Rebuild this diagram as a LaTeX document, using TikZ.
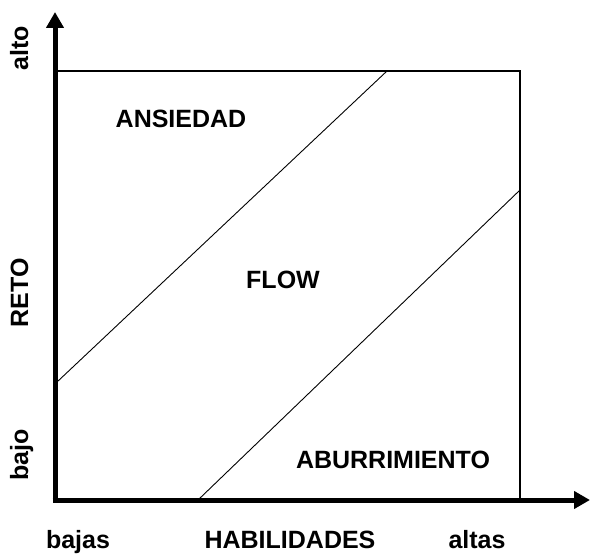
\documentclass[tikz,border=0pt]{standalone}
\usepackage{fontspec}
\setmainfont{Liberation Sans}
\usetikzlibrary{arrows.meta}
\begin{document}
\begin{tikzpicture}[x=1pt,y=-1pt,
  axis/.style={line width=5pt,-{Triangle[length=16pt,width=17pt]}},
  frame/.style={line width=1.6pt},
  diag/.style={line width=0.9pt},
  lbl/.style={font=\fontsize{25}{29}\selectfont\bfseries,inner sep=0pt,anchor=base},
  vlbl/.style={lbl,rotate=90}]
\useasboundingbox (0,0) rectangle (591,556);
\coordinate (O) at (55,500);
\coordinate (ytip) at (55,12);
\coordinate (xtip) at (590,500);
\coordinate (TL) at (55,71);
\coordinate (BR) at (520,500);
\coordinate (d1a) at (57,382);
\coordinate (d1b) at (387,71);
\coordinate (d2a) at (198,500);
\coordinate (d2b) at (520,190);
\draw[frame] (TL) rectangle (BR);
\draw[diag] (d1a) -- (d1b);
\draw[diag] (d2a) -- (d2b);
\draw[axis] ([yshift=2.5pt]O) -- (ytip);
\draw[axis] ([xshift=-2.5pt]O) -- (xtip);
\node[lbl] (ans) at (181,128) {ANSIEDAD};
\node[lbl] (flow) at (283,288) {FLOW};
\node[lbl] (abu) at (393,468) {ABURRIMIENTO};
\node[lbl] (bajas) at (78,548) {bajas};
\node[lbl] (hab) at (290,548) {HABILIDADES};
\node[lbl] (altas) at (477,548) {altas};
\node[vlbl] (alto) at (28,48) {alto};
\node[vlbl] (reto) at (28,293) {RETO};
\node[vlbl] (bajo) at (28,455) {bajo};
\end{tikzpicture}
\end{document}
